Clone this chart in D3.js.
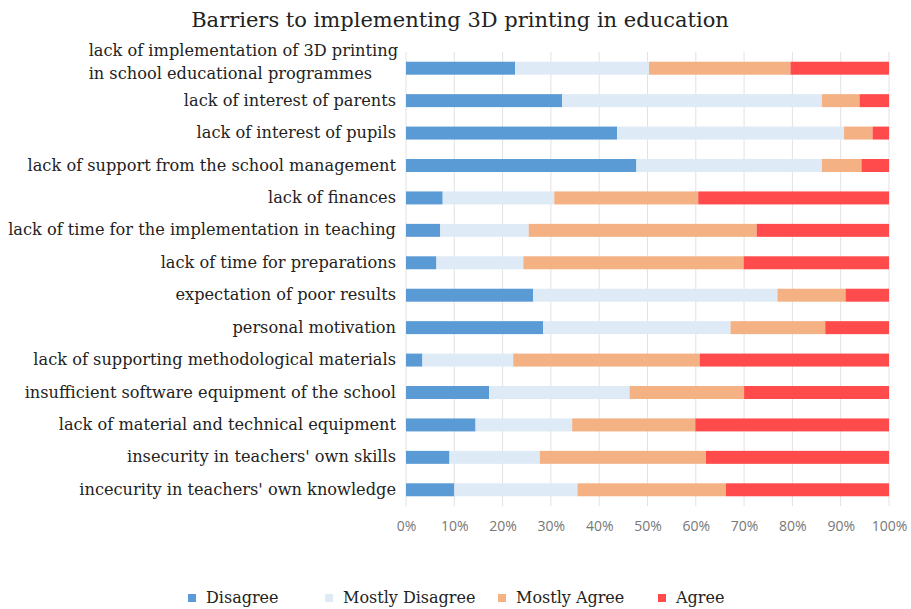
<!DOCTYPE html>
<html>
<head>
<meta charset="utf-8">
<script src="https://cdn.jsdelivr.net/npm/d3@7"></script>
<style>
  body { margin: 0; background: #fff; }
  svg { display: block; }
</style>
</head>
<body>
<svg id="canvas" width="911" height="609"></svg>
<script>
// categories, top to bottom
let categories = [
  'lack of implementation of 3D printing|in school educational programmes',
  'lack of interest of parents',
  'lack of interest of pupils',
  'lack of support from the school management',
  'lack of finances',
  'lack of time for the implementation in teaching',
  'lack of time for preparations',
  'expectation of poor results',
  'personal motivation',
  'lack of supporting methodological materials',
  'insufficient software equipment of the school',
  'lack of material and technical equipment',
  "insecurity in teachers' own skills",
  "incecurity in teachers' own knowledge"
];

let seriesNames = ['Disagree', 'Mostly Disagree', 'Mostly Agree', 'Agree'];
let seriesColors = ['#5b9bd5', '#deeaf6', '#f4b183', '#ff4b4b'];

let disagree       = [22.6, 32.3, 43.7, 47.7, 7.6, 7.1, 6.3, 26.3, 28.4, 3.4, 17.2, 14.4, 9.0, 10.0];
let mostlyDisagree = [27.7, 53.8, 47.0, 38.4, 23.1, 18.3, 18.0, 50.6, 38.8, 18.8, 29.1, 20.0, 18.7, 25.5];
let mostlyAgree    = [29.3, 7.8, 5.9, 8.2, 29.8, 47.2, 45.6, 14.1, 19.6, 38.6, 23.7, 25.5, 34.4, 30.7];
let agree          = [20.4, 6.1, 3.4, 5.7, 39.5, 27.4, 30.1, 9.0, 13.2, 39.2, 30.0, 40.1, 37.9, 33.8];

let tickValues = [0, 10, 20, 30, 40, 50, 60, 70, 80, 90, 100];

let rows = categories.map((c, i) => {
  let vals = [disagree[i], mostlyDisagree[i], mostlyAgree[i], agree[i]];
  let total = d3.sum(vals);
  let acc = 0;
  let segs = vals.map((v, k) => {
    let s = { key: k, x0: acc / total * 100, x1: (acc + v) / total * 100 };
    acc += v;
    return s;
  });
  return { cat: c, segs: segs };
});

let svg = d3.select('#canvas');
let plotLeft = 406, plotRight = 889, plotTop = 52, plotBottom = 506;
let serif = 'DejaVu Serif, serif';

let x = d3.scaleLinear().domain([0, 100]).range([plotLeft, plotRight]);
let y = d3.scaleBand().domain(categories).range([plotTop, plotBottom]).paddingInner(0.6).paddingOuter(0.3);

// title
svg.append('text')
  .attr('x', 460).attr('y', 27)
  .attr('text-anchor', 'middle')
  .style('font-family', serif)
  .style('font-size', '21px')
  .style('fill', '#222')
  .text('Barriers to implementing 3D printing in education');

// gridlines
svg.append('g')
  .selectAll('line')
  .data(tickValues)
  .enter()
  .append('line')
  .attr('x1', d => x(d)).attr('x2', d => x(d))
  .attr('y1', plotTop).attr('y2', plotBottom)
  .attr('stroke', '#e2e2e2')
  .attr('stroke-width', 1);

// bars
let rowG = svg.append('g')
  .selectAll('g')
  .data(rows)
  .enter()
  .append('g')
  .attr('transform', d => 'translate(0,' + y(d.cat) + ')');

rowG.selectAll('rect')
  .data(d => d.segs)
  .enter()
  .append('rect')
  .attr('x', d => x(d.x0))
  .attr('width', d => x(d.x1) - x(d.x0))
  .attr('y', 0)
  .attr('height', y.bandwidth())
  .attr('fill', d => seriesColors[d.key]);

// category labels
let labels = svg.append('g')
  .selectAll('text')
  .data(categories)
  .enter()
  .append('text')
  .style('font-family', serif)
  .style('font-size', '16.2px')
  .style('fill', '#222')
  .attr('y', d => y(d) + y.bandwidth() / 2 + 5);

labels.each(function(d) {
  let parts = d.split('|');
  let t = d3.select(this);
  if (parts.length === 1) {
    t.attr('text-anchor', 'end');
    t.append('tspan').attr('x', 396).text(parts[0]);
  } else {
    // two line label, left aligned under the first line
    t.attr('y', y(d) + y.bandwidth() / 2 - 12);
    let first = t.append('tspan').text(parts[0]);
    let w = first.node().getComputedTextLength();
    first.attr('x', 398 - w);
    t.append('tspan').attr('x', 398 - w).attr('dy', 23).text(parts[1]);
  }
});

// x axis
let xAxis = d3.axisBottom(x).tickValues(tickValues).tickFormat(d => d + '%').tickSize(0);
let ax = svg.append('g')
  .attr('transform', 'translate(0,' + plotBottom + ')')
  .call(xAxis);
ax.select('.domain').remove();
ax.selectAll('text')
  .attr('dy', '1.6em')
  .style('font-family', 'Open Sans, sans-serif')
  .style('font-size', '14px')
  .style('fill', '#777');

// legend
let legendX = [188, 325, 498, 658];
let lg = svg.append('g')
  .selectAll('g')
  .data(seriesNames)
  .enter()
  .append('g')
  .attr('transform', (d, i) => 'translate(' + legendX[i] + ',598)');
lg.append('rect')
  .attr('x', 0).attr('y', -4)
  .attr('width', 8).attr('height', 8)
  .attr('fill', (d, i) => seriesColors[i]);
lg.append('text')
  .attr('x', 18).attr('y', 5)
  .style('font-family', serif)
  .style('font-size', '16px')
  .style('fill', '#222')
  .text(d => d);
</script>
</body>
</html>
